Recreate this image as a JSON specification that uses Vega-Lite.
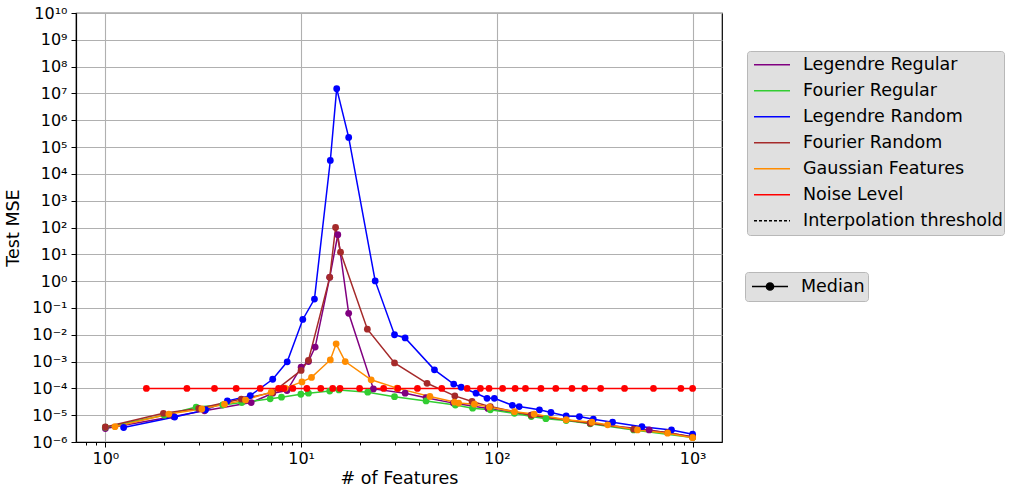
{
  "$schema": "https://vega.github.io/schema/vega-lite/v6.json",
  "width": 646,
  "height": 429,
  "autosize": {"type": "none"},
  "padding": {"left": 76, "top": 13, "right": 292, "bottom": 51},
  "config": {
    "font": "DejaVu Sans",
    "view": {"stroke": "#000000", "strokeWidth": 1.2},
    "axis": {"labelFont": "DejaVu Sans", "titleFont": "DejaVu Sans", "labelColor": "#000", "titleColor": "#000", "titleFontWeight": "normal", "labelFontSize": 16, "titleFontSize": 17.5, "domainColor": "#000", "tickColor": "#000", "gridColor": "#b0b0b0", "gridWidth": 1.1, "domainWidth": 1.2},
    "legend": {"labelFont": "DejaVu Sans", "labelFontSize": 17.5, "labelColor": "#000", "labelLimit": 400}
  },
  "layer": [
    {
      "data": {"values": [{"s": "Interpolation threshold", "x": 15}]},
      "mark": {"type": "rule", "strokeWidth": 1.1, "strokeDash": [3, 2]},
      "encoding": {
        "x": {"field": "x", "type": "quantitative"},
        "color": {"field": "s", "type": "nominal"}
      }
    },
    {
      "data": {"name": "series", "values": [
        {"s": "Legendre Regular", "x": 1.0, "y": 3.16e-6},
        {"s": "Legendre Regular", "x": 2.23, "y": 8.91e-6},
        {"s": "Legendre Regular", "x": 3.21, "y": 1.45e-5},
        {"s": "Legendre Regular", "x": 5.56, "y": 2.95e-5},
        {"s": "Legendre Regular", "x": 7.16, "y": 6.61e-5},
        {"s": "Legendre Regular", "x": 8.47, "y": 8.32e-5},
        {"s": "Legendre Regular", "x": 10.0, "y": 6.17e-4},
        {"s": "Legendre Regular", "x": 10.9, "y": 1.0e-3},
        {"s": "Legendre Regular", "x": 11.8, "y": 3.47e-3},
        {"s": "Legendre Regular", "x": 14.0, "y": 1.38},
        {"s": "Legendre Regular", "x": 15.4, "y": 53.7},
        {"s": "Legendre Regular", "x": 17.5, "y": 6.31e-2},
        {"s": "Legendre Regular", "x": 23.4, "y": 9.55e-5},
        {"s": "Legendre Regular", "x": 34.0, "y": 6.61e-5},
        {"s": "Legendre Regular", "x": 43.5, "y": 4.47e-5},
        {"s": "Legendre Regular", "x": 60, "y": 2.82e-5},
        {"s": "Legendre Regular", "x": 90, "y": 1.78e-5},
        {"s": "Legendre Regular", "x": 150, "y": 1.0e-5},
        {"s": "Legendre Regular", "x": 300, "y": 5.01e-6},
        {"s": "Legendre Regular", "x": 600, "y": 2.82e-6},
        {"s": "Legendre Regular", "x": 1000, "y": 1.58e-6},

        {"s": "Fourier Regular", "x": 1.0, "y": 3.55e-6},
        {"s": "Fourier Regular", "x": 2.0, "y": 1.0e-5},
        {"s": "Fourier Regular", "x": 2.91, "y": 2.0e-5},
        {"s": "Fourier Regular", "x": 3.98, "y": 2.4e-5},
        {"s": "Fourier Regular", "x": 4.98, "y": 2.95e-5},
        {"s": "Fourier Regular", "x": 6.95, "y": 4.07e-5},
        {"s": "Fourier Regular", "x": 7.94, "y": 4.68e-5},
        {"s": "Fourier Regular", "x": 9.97, "y": 6.03e-5},
        {"s": "Fourier Regular", "x": 10.9, "y": 6.61e-5},
        {"s": "Fourier Regular", "x": 14.0, "y": 7.94e-5},
        {"s": "Fourier Regular", "x": 15.6, "y": 8.71e-5},
        {"s": "Fourier Regular", "x": 21.9, "y": 7.24e-5},
        {"s": "Fourier Regular", "x": 30.0, "y": 4.9e-5},
        {"s": "Fourier Regular", "x": 43.5, "y": 3.39e-5},
        {"s": "Fourier Regular", "x": 61.4, "y": 2.4e-5},
        {"s": "Fourier Regular", "x": 75.2, "y": 1.82e-5},
        {"s": "Fourier Regular", "x": 92.6, "y": 1.58e-5},
        {"s": "Fourier Regular", "x": 123, "y": 1.17e-5},
        {"s": "Fourier Regular", "x": 150, "y": 8.91e-6},
        {"s": "Fourier Regular", "x": 178, "y": 7.41e-6},
        {"s": "Fourier Regular", "x": 226, "y": 6.31e-6},
        {"s": "Fourier Regular", "x": 300, "y": 4.79e-6},
        {"s": "Fourier Regular", "x": 500, "y": 2.82e-6},
        {"s": "Fourier Regular", "x": 1000, "y": 1.48e-6},

        {"s": "Legendre Random", "x": 1.24, "y": 3.47e-6},
        {"s": "Legendre Random", "x": 2.26, "y": 8.51e-6},
        {"s": "Legendre Random", "x": 3.25, "y": 1.58e-5},
        {"s": "Legendre Random", "x": 4.2, "y": 3.39e-5},
        {"s": "Legendre Random", "x": 5.5, "y": 5.37e-5},
        {"s": "Legendre Random", "x": 7.16, "y": 2.19e-4},
        {"s": "Legendre Random", "x": 8.49, "y": 9.77e-4},
        {"s": "Legendre Random", "x": 10.2, "y": 3.72e-2},
        {"s": "Legendre Random", "x": 11.7, "y": 0.214},
        {"s": "Legendre Random", "x": 14.1, "y": 3.16e4},
        {"s": "Legendre Random", "x": 15.2, "y": 1.51e7},
        {"s": "Legendre Random", "x": 17.5, "y": 2.29e5},
        {"s": "Legendre Random", "x": 23.9, "y": 1.02},
        {"s": "Legendre Random", "x": 30.0, "y": 1.0e-2},
        {"s": "Legendre Random", "x": 34.0, "y": 7.59e-3},
        {"s": "Legendre Random", "x": 48.0, "y": 4.9e-4},
        {"s": "Legendre Random", "x": 60.2, "y": 1.45e-4},
        {"s": "Legendre Random", "x": 65.7, "y": 1.1e-4},
        {"s": "Legendre Random", "x": 78.3, "y": 6.61e-5},
        {"s": "Legendre Random", "x": 89.1, "y": 4.27e-5},
        {"s": "Legendre Random", "x": 97.1, "y": 4.27e-5},
        {"s": "Legendre Random", "x": 120, "y": 2.34e-5},
        {"s": "Legendre Random", "x": 130, "y": 2.09e-5},
        {"s": "Legendre Random", "x": 165, "y": 1.58e-5},
        {"s": "Legendre Random", "x": 189, "y": 1.26e-5},
        {"s": "Legendre Random", "x": 226, "y": 9.33e-6},
        {"s": "Legendre Random", "x": 264, "y": 8.91e-6},
        {"s": "Legendre Random", "x": 311, "y": 7.08e-6},
        {"s": "Legendre Random", "x": 390, "y": 5.5e-6},
        {"s": "Legendre Random", "x": 551, "y": 3.72e-6},
        {"s": "Legendre Random", "x": 780, "y": 2.82e-6},
        {"s": "Legendre Random", "x": 1000, "y": 1.95e-6},

        {"s": "Fourier Random", "x": 1.0, "y": 3.63e-6},
        {"s": "Fourier Random", "x": 1.98, "y": 1.17e-5},
        {"s": "Fourier Random", "x": 3.0, "y": 1.78e-5},
        {"s": "Fourier Random", "x": 4.95, "y": 3.98e-5},
        {"s": "Fourier Random", "x": 7.16, "y": 7.08e-5},
        {"s": "Fourier Random", "x": 10.0, "y": 4.68e-4},
        {"s": "Fourier Random", "x": 10.9, "y": 1.1e-3},
        {"s": "Fourier Random", "x": 14.0, "y": 1.38},
        {"s": "Fourier Random", "x": 15.0, "y": 100},
        {"s": "Fourier Random", "x": 15.9, "y": 12.0},
        {"s": "Fourier Random", "x": 21.8, "y": 1.62e-2},
        {"s": "Fourier Random", "x": 30.0, "y": 8.91e-4},
        {"s": "Fourier Random", "x": 44.0, "y": 1.55e-4},
        {"s": "Fourier Random", "x": 61.0, "y": 5.25e-5},
        {"s": "Fourier Random", "x": 74.7, "y": 3.24e-5},
        {"s": "Fourier Random", "x": 92.6, "y": 2.09e-5},
        {"s": "Fourier Random", "x": 150, "y": 1.0e-5},
        {"s": "Fourier Random", "x": 300, "y": 5.01e-6},
        {"s": "Fourier Random", "x": 500, "y": 3.02e-6},
        {"s": "Fourier Random", "x": 745, "y": 2.24e-6},
        {"s": "Fourier Random", "x": 1000, "y": 1.51e-6},

        {"s": "Gaussian Features", "x": 1.12, "y": 3.72e-6},
        {"s": "Gaussian Features", "x": 2.11, "y": 1.1e-5},
        {"s": "Gaussian Features", "x": 3.11, "y": 1.7e-5},
        {"s": "Gaussian Features", "x": 4.06, "y": 2.57e-5},
        {"s": "Gaussian Features", "x": 5.2, "y": 3.72e-5},
        {"s": "Gaussian Features", "x": 7.04, "y": 7.24e-5},
        {"s": "Gaussian Features", "x": 8.29, "y": 1.02e-4},
        {"s": "Gaussian Features", "x": 10.1, "y": 1.74e-4},
        {"s": "Gaussian Features", "x": 11.3, "y": 2.57e-4},
        {"s": "Gaussian Features", "x": 14.1, "y": 1.15e-3},
        {"s": "Gaussian Features", "x": 15.1, "y": 4.57e-3},
        {"s": "Gaussian Features", "x": 16.8, "y": 1.0e-3},
        {"s": "Gaussian Features", "x": 22.8, "y": 2.09e-4},
        {"s": "Gaussian Features", "x": 30.9, "y": 1.02e-4},
        {"s": "Gaussian Features", "x": 45.5, "y": 5.01e-5},
        {"s": "Gaussian Features", "x": 60.7, "y": 3.09e-5},
        {"s": "Gaussian Features", "x": 63.8, "y": 2.82e-5},
        {"s": "Gaussian Features", "x": 76.8, "y": 2.57e-5},
        {"s": "Gaussian Features", "x": 91.6, "y": 2.0e-5},
        {"s": "Gaussian Features", "x": 123, "y": 1.35e-5},
        {"s": "Gaussian Features", "x": 155, "y": 1.1e-5},
        {"s": "Gaussian Features", "x": 226, "y": 6.76e-6},
        {"s": "Gaussian Features", "x": 306, "y": 5.5e-6},
        {"s": "Gaussian Features", "x": 368, "y": 4.37e-6},
        {"s": "Gaussian Features", "x": 523, "y": 2.82e-6},
        {"s": "Gaussian Features", "x": 745, "y": 2.14e-6},
        {"s": "Gaussian Features", "x": 1000, "y": 1.45e-6},

        {"s": "Noise Level", "x": 1.62, "y": 1e-4},
        {"s": "Noise Level", "x": 2.61, "y": 1e-4},
        {"s": "Noise Level", "x": 3.61, "y": 1e-4},
        {"s": "Noise Level", "x": 4.66, "y": 1e-4},
        {"s": "Noise Level", "x": 6.18, "y": 1e-4},
        {"s": "Noise Level", "x": 7.67, "y": 1e-4},
        {"s": "Noise Level", "x": 8.16, "y": 1e-4},
        {"s": "Noise Level", "x": 9.07, "y": 1e-4},
        {"s": "Noise Level", "x": 10.7, "y": 1e-4},
        {"s": "Noise Level", "x": 12.6, "y": 1e-4},
        {"s": "Noise Level", "x": 14.5, "y": 1e-4},
        {"s": "Noise Level", "x": 15.8, "y": 1e-4},
        {"s": "Noise Level", "x": 19.9, "y": 1e-4},
        {"s": "Noise Level", "x": 26.4, "y": 1e-4},
        {"s": "Noise Level", "x": 31.2, "y": 1e-4},
        {"s": "Noise Level", "x": 39.3, "y": 1e-4},
        {"s": "Noise Level", "x": 52.3, "y": 1e-4},
        {"s": "Noise Level", "x": 70.5, "y": 1e-4},
        {"s": "Noise Level", "x": 82.4, "y": 1e-4},
        {"s": "Noise Level", "x": 91.2, "y": 1e-4},
        {"s": "Noise Level", "x": 107, "y": 1e-4},
        {"s": "Noise Level", "x": 124, "y": 1e-4},
        {"s": "Noise Level", "x": 140, "y": 1e-4},
        {"s": "Noise Level", "x": 168, "y": 1e-4},
        {"s": "Noise Level", "x": 200, "y": 1e-4},
        {"s": "Noise Level", "x": 242, "y": 1e-4},
        {"s": "Noise Level", "x": 281, "y": 1e-4},
        {"s": "Noise Level", "x": 339, "y": 1e-4},
        {"s": "Noise Level", "x": 449, "y": 1e-4},
        {"s": "Noise Level", "x": 631, "y": 1e-4},
        {"s": "Noise Level", "x": 871, "y": 1e-4},
        {"s": "Noise Level", "x": 1000, "y": 1e-4}
      ]},
      "layer": [
        {
          "mark": {"type": "line", "strokeWidth": 1.5},
          "encoding": {
            "x": {"field": "x", "type": "quantitative"},
            "y": {"field": "y", "type": "quantitative"},
            "color": {"field": "s", "type": "nominal"}
          }
        },
        {
          "mark": {"type": "point", "filled": true, "size": 46},
          "encoding": {
            "x": {"field": "x", "type": "quantitative"},
            "y": {"field": "y", "type": "quantitative"},
            "color": {"field": "s", "type": "nominal"},
            "opacity": {
              "datum": "Median", "type": "nominal",
              "scale": {"domain": ["Median"], "range": [0.9]},
              "legend": {
                "title": null, "orient": "none", "legendX": 669, "legendY": 259,
                "fillColor": "#e0e0e0", "strokeColor": "#b8b8b8", "cornerRadius": 3, "padding": 3,
                "clipHeight": 23, "rowPadding": 0, "symbolOffset": 3, "labelOffset": 12,
                "symbolType": "M-1,0L1,0M-0.2,0A0.2,0.2,0,1,0,0.2,0A0.2,0.2,0,1,0,-0.2,0Z",
                "symbolSize": 1296, "symbolStrokeWidth": 1.5, "symbolFillColor": "#000", "symbolStrokeColor": "#000",
                "symbolOpacity": 1,
                "encode": {"symbols": {"update": {"fill": {"value": "#000"}, "stroke": {"value": "#000"}, "opacity": {"value": 1}}}}
              }
            }
          }
        }
      ]
    }
  ],
  "encoding": {
    "x": {
      "field": "x", "type": "quantitative", "title": "# of Features",
      "scale": {"type": "log", "domain": [0.708, 1413], "nice": false, "zero": false},
      "axis": {
        "values": [0.8, 0.9, 1, 2, 3, 4, 5, 6, 7, 8, 9, 10, 20, 30, 40, 50, 60, 70, 80, 90, 100, 200, 300, 400, 500, 600, 700, 800, 900, 1000],
        "labelExpr": "datum.value == 1 ? '10⁰' : datum.value == 10 ? '10¹' : datum.value == 100 ? '10²' : datum.value == 1000 ? '10³' : ''",
        "grid": true,
        "gridOpacity": {"condition": {"test": "datum.value == 1 || datum.value == 10 || datum.value == 100 || datum.value == 1000", "value": 1}, "value": 0},
        "tickSize": {"condition": {"test": "datum.value == 1 || datum.value == 10 || datum.value == 100 || datum.value == 1000", "value": 5}, "value": 3},
        "labelPadding": 3, "titlePadding": 3, "labelFlush": false, "labelOverlap": false
      }
    },
    "y": {
      "field": "y", "type": "quantitative", "title": "Test MSE",
      "scale": {"type": "log", "domain": [1e-6, 1e10], "nice": false, "zero": false},
      "axis": {
        "values": [1e-6, 1e-5, 1e-4, 1e-3, 1e-2, 1e-1, 1, 10, 100, 1000, 1e4, 1e5, 1e6, 1e7, 1e8, 1e9, 1e10],
        "labelExpr": "'10' + ['⁻⁶','⁻⁵','⁻⁴','⁻³','⁻²','⁻¹','⁰','¹','²','³','⁴','⁵','⁶','⁷','⁸','⁹','¹⁰'][round(log(datum.value)/LN10) + 6]",
        "grid": true, "tickSize": 5, "labelPadding": 4, "titlePadding": 9, "labelFlush": false, "labelOverlap": false
      }
    },
    "color": {
      "field": "s", "type": "nominal",
      "scale": {
        "domain": ["Legendre Regular", "Fourier Regular", "Legendre Random", "Fourier Random", "Gaussian Features", "Noise Level", "Interpolation threshold"],
        "range": ["#800080", "#32cd32", "#0000ff", "#a52a2a", "#ff8c00", "#ff0000", "#000000"]
      },
      "legend": {
        "title": null, "orient": "none", "legendX": 671, "legendY": 38,
        "fillColor": "#e0e0e0", "strokeColor": "#b8b8b8", "cornerRadius": 3, "padding": 1,
        "clipHeight": 25.6, "rowPadding": 0, "symbolOffset": 5, "labelOffset": 12,
        "symbolType": "stroke", "symbolSize": 1296, "symbolStrokeWidth": 1.5, "symbolOpacity": 1,
        "encode": {"symbols": {"update": {"strokeDash": {"signal": "datum.value == 'Interpolation threshold' ? [3, 2] : [1, 0]"}, "opacity": {"value": 1}}}}
      }
    }
  }
}
